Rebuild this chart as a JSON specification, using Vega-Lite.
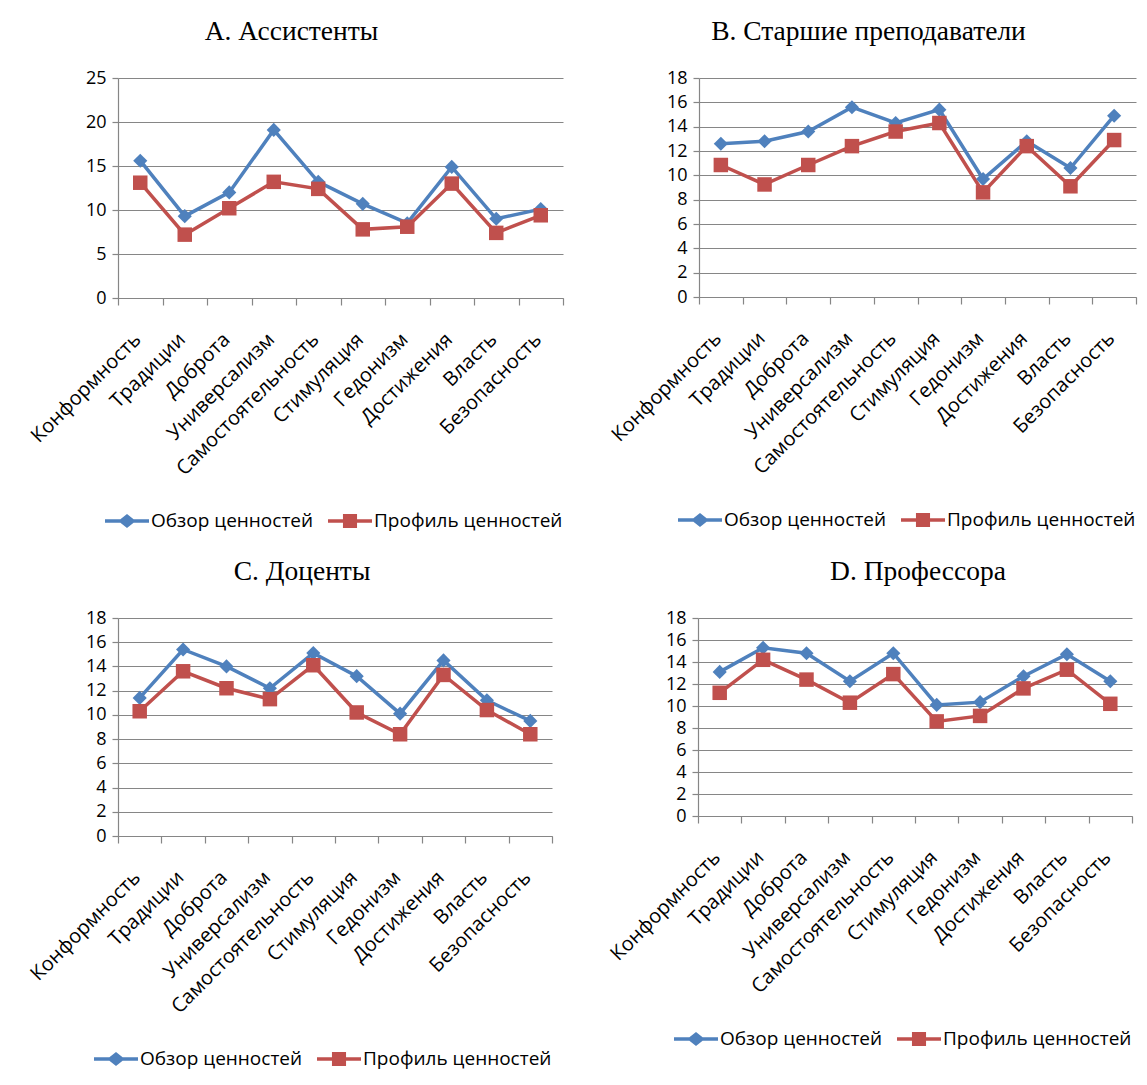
{
  "$schema": "https://vega.github.io/schema/vega-lite/v6.json",
  "background": "white",
  "padding": {"left": 26, "top": 17, "right": 2, "bottom": 5},
  "datasets": {
    "a": [
      {"c": "Конформность", "s": "Обзор ценностей", "v": 15.6},
      {"c": "Традиции", "s": "Обзор ценностей", "v": 9.3},
      {"c": "Доброта", "s": "Обзор ценностей", "v": 12.0},
      {"c": "Универсализм", "s": "Обзор ценностей", "v": 19.1},
      {"c": "Самостоятельность", "s": "Обзор ценностей", "v": 13.2},
      {"c": "Стимуляция", "s": "Обзор ценностей", "v": 10.7},
      {"c": "Гедонизм", "s": "Обзор ценностей", "v": 8.5},
      {"c": "Достижения", "s": "Обзор ценностей", "v": 14.9},
      {"c": "Власть", "s": "Обзор ценностей", "v": 9.0},
      {"c": "Безопасность", "s": "Обзор ценностей", "v": 10.1},
      {"c": "Конформность", "s": "Профиль ценностей", "v": 13.1},
      {"c": "Традиции", "s": "Профиль ценностей", "v": 7.2},
      {"c": "Доброта", "s": "Профиль ценностей", "v": 10.2},
      {"c": "Универсализм", "s": "Профиль ценностей", "v": 13.2},
      {"c": "Самостоятельность", "s": "Профиль ценностей", "v": 12.4},
      {"c": "Стимуляция", "s": "Профиль ценностей", "v": 7.8},
      {"c": "Гедонизм", "s": "Профиль ценностей", "v": 8.1},
      {"c": "Достижения", "s": "Профиль ценностей", "v": 13.0},
      {"c": "Власть", "s": "Профиль ценностей", "v": 7.4},
      {"c": "Безопасность", "s": "Профиль ценностей", "v": 9.4}
    ],
    "b": [
      {"c": "Конформность", "s": "Обзор ценностей", "v": 12.6},
      {"c": "Традиции", "s": "Обзор ценностей", "v": 12.8},
      {"c": "Доброта", "s": "Обзор ценностей", "v": 13.6},
      {"c": "Универсализм", "s": "Обзор ценностей", "v": 15.6},
      {"c": "Самостоятельность", "s": "Обзор ценностей", "v": 14.3},
      {"c": "Стимуляция", "s": "Обзор ценностей", "v": 15.4},
      {"c": "Гедонизм", "s": "Обзор ценностей", "v": 9.7},
      {"c": "Достижения", "s": "Обзор ценностей", "v": 12.8},
      {"c": "Власть", "s": "Обзор ценностей", "v": 10.6},
      {"c": "Безопасность", "s": "Обзор ценностей", "v": 14.9},
      {"c": "Конформность", "s": "Профиль ценностей", "v": 10.85},
      {"c": "Традиции", "s": "Профиль ценностей", "v": 9.25},
      {"c": "Доброта", "s": "Профиль ценностей", "v": 10.85},
      {"c": "Универсализм", "s": "Профиль ценностей", "v": 12.4},
      {"c": "Самостоятельность", "s": "Профиль ценностей", "v": 13.6},
      {"c": "Стимуляция", "s": "Профиль ценностей", "v": 14.3},
      {"c": "Гедонизм", "s": "Профиль ценностей", "v": 8.6},
      {"c": "Достижения", "s": "Профиль ценностей", "v": 12.4},
      {"c": "Власть", "s": "Профиль ценностей", "v": 9.1},
      {"c": "Безопасность", "s": "Профиль ценностей", "v": 12.9}
    ],
    "c": [
      {"c": "Конформность", "s": "Обзор ценностей", "v": 11.4},
      {"c": "Традиции", "s": "Обзор ценностей", "v": 15.4},
      {"c": "Доброта", "s": "Обзор ценностей", "v": 14.0},
      {"c": "Универсализм", "s": "Обзор ценностей", "v": 12.2},
      {"c": "Самостоятельность", "s": "Обзор ценностей", "v": 15.1},
      {"c": "Стимуляция", "s": "Обзор ценностей", "v": 13.2},
      {"c": "Гедонизм", "s": "Обзор ценностей", "v": 10.1},
      {"c": "Достижения", "s": "Обзор ценностей", "v": 14.5},
      {"c": "Власть", "s": "Обзор ценностей", "v": 11.2},
      {"c": "Безопасность", "s": "Обзор ценностей", "v": 9.5},
      {"c": "Конформность", "s": "Профиль ценностей", "v": 10.3},
      {"c": "Традиции", "s": "Профиль ценностей", "v": 13.6},
      {"c": "Доброта", "s": "Профиль ценностей", "v": 12.2},
      {"c": "Универсализм", "s": "Профиль ценностей", "v": 11.3},
      {"c": "Самостоятельность", "s": "Профиль ценностей", "v": 14.1},
      {"c": "Стимуляция", "s": "Профиль ценностей", "v": 10.2},
      {"c": "Гедонизм", "s": "Профиль ценностей", "v": 8.4},
      {"c": "Достижения", "s": "Профиль ценностей", "v": 13.3},
      {"c": "Власть", "s": "Профиль ценностей", "v": 10.4},
      {"c": "Безопасность", "s": "Профиль ценностей", "v": 8.4}
    ],
    "d": [
      {"c": "Конформность", "s": "Обзор ценностей", "v": 13.1},
      {"c": "Традиции", "s": "Обзор ценностей", "v": 15.3},
      {"c": "Доброта", "s": "Обзор ценностей", "v": 14.8},
      {"c": "Универсализм", "s": "Обзор ценностей", "v": 12.25},
      {"c": "Самостоятельность", "s": "Обзор ценностей", "v": 14.8},
      {"c": "Стимуляция", "s": "Обзор ценностей", "v": 10.1},
      {"c": "Гедонизм", "s": "Обзор ценностей", "v": 10.35},
      {"c": "Достижения", "s": "Обзор ценностей", "v": 12.7},
      {"c": "Власть", "s": "Обзор ценностей", "v": 14.7},
      {"c": "Безопасность", "s": "Обзор ценностей", "v": 12.25},
      {"c": "Конформность", "s": "Профиль ценностей", "v": 11.2},
      {"c": "Традиции", "s": "Профиль ценностей", "v": 14.2},
      {"c": "Доброта", "s": "Профиль ценностей", "v": 12.4},
      {"c": "Универсализм", "s": "Профиль ценностей", "v": 10.3},
      {"c": "Самостоятельность", "s": "Профиль ценностей", "v": 12.9},
      {"c": "Стимуляция", "s": "Профиль ценностей", "v": 8.6},
      {"c": "Гедонизм", "s": "Профиль ценностей", "v": 9.1},
      {"c": "Достижения", "s": "Профиль ценностей", "v": 11.6},
      {"c": "Власть", "s": "Профиль ценностей", "v": 13.3},
      {"c": "Безопасность", "s": "Профиль ценностей", "v": 10.2}
    ]
  },
  "resolve": {"scale": {"x": "independent", "y": "independent", "color": "independent"}, "legend": {"color": "independent"}},
  "spacing": 26,
  "vconcat": [
    {
      "hconcat": [
        {
          "title": {"text": "A. Ассистенты", "dx": -49},
          "width": 445, "height": 220,
          "data": {"name": "a"},
          "encoding": {
            "x": {"field": "c", "type": "nominal", "sort": ["Конформность","Традиции","Доброта","Универсализм","Самостоятельность","Стимуляция","Гедонизм","Достижения","Власть","Безопасность"], "scale": {"type": "band", "paddingInner": 0, "paddingOuter": 0}, "axis": {"title": null}},
            "y": {"field": "v", "type": "quantitative", "scale": {"domain": [0, 25], "nice": false}, "axis": {"title": null, "values": [0, 5, 10, 15, 20, 25]}},
            "color": {"field": "s", "type": "nominal", "scale": {"domain": ["Обзор ценностей", "Профиль ценностей"], "range": ["#4F81BD", "#C0504D"]},
              "legend": {"encode": {"symbols": {"update": {"shape": {"signal": "datum.value === 'Обзор ценностей' ? 'M-1,-0.08L-0.3,-0.08L0,-0.32L0.3,-0.08L1,-0.08L1,0.08L0.3,0.08L0,0.32L-0.3,0.08L-1,0.08Z' : 'M-1,-0.08L-0.32,-0.08L-0.32,-0.32L0.32,-0.32L0.32,-0.08L1,-0.08L1,0.08L0.32,0.08L0.32,0.32L-0.32,0.32L-0.32,0.08L-1,0.08Z'"}, "fill": {"signal": "datum.value === 'Обзор ценностей' ? '#4F81BD' : '#C0504D'"}, "stroke": {"value": "transparent"}, "strokeWidth": {"value": 0}, "opacity": {"value": 1}, "size": {"value": 1936}}}}}}
          },
          "layer": [
            {"mark": {"type": "line", "strokeWidth": 3.5}},
            {"transform": [{"filter": "datum.s === 'Обзор ценностей'"}], "mark": {"type": "point", "filled": true, "opacity": 1, "shape": "diamond", "size": 200}},
            {"transform": [{"filter": "datum.s === 'Профиль ценностей'"}], "mark": {"type": "point", "filled": true, "opacity": 1, "shape": "square", "size": 210}}
          ]
        },
        {
          "title": {"text": "B. Старшие преподаватели", "dx": -49},
          "width": 437, "height": 219,
          "data": {"name": "b"},
          "encoding": {
            "x": {"field": "c", "type": "nominal", "sort": ["Конформность","Традиции","Доброта","Универсализм","Самостоятельность","Стимуляция","Гедонизм","Достижения","Власть","Безопасность"], "scale": {"type": "band", "paddingInner": 0, "paddingOuter": 0}, "axis": {"title": null}},
            "y": {"field": "v", "type": "quantitative", "scale": {"domain": [0, 18], "nice": false}, "axis": {"title": null, "values": [0, 2, 4, 6, 8, 10, 12, 14, 16, 18]}},
            "color": {"field": "s", "type": "nominal", "scale": {"domain": ["Обзор ценностей", "Профиль ценностей"], "range": ["#4F81BD", "#C0504D"]},
              "legend": {"encode": {"symbols": {"update": {"shape": {"signal": "datum.value === 'Обзор ценностей' ? 'M-1,-0.08L-0.3,-0.08L0,-0.32L0.3,-0.08L1,-0.08L1,0.08L0.3,0.08L0,0.32L-0.3,0.08L-1,0.08Z' : 'M-1,-0.08L-0.32,-0.08L-0.32,-0.32L0.32,-0.32L0.32,-0.08L1,-0.08L1,0.08L0.32,0.08L0.32,0.32L-0.32,0.32L-0.32,0.08L-1,0.08Z'"}, "fill": {"signal": "datum.value === 'Обзор ценностей' ? '#4F81BD' : '#C0504D'"}, "stroke": {"value": "transparent"}, "strokeWidth": {"value": 0}, "opacity": {"value": 1}, "size": {"value": 1936}}}}}}
          },
          "layer": [
            {"mark": {"type": "line", "strokeWidth": 3.5}},
            {"transform": [{"filter": "datum.s === 'Обзор ценностей'"}], "mark": {"type": "point", "filled": true, "opacity": 1, "shape": "diamond", "size": 200}},
            {"transform": [{"filter": "datum.s === 'Профиль ценностей'"}], "mark": {"type": "point", "filled": true, "opacity": 1, "shape": "square", "size": 210}}
          ]
        }
      ],
      "spacing": 43,
      "resolve": {"scale": {"x": "independent", "y": "independent", "color": "independent"}, "legend": {"color": "independent"}}
    },
    {
      "hconcat": [
        {
          "title": {"text": "C. Доценты", "dx": -33},
          "width": 434, "height": 218,
          "data": {"name": "c"},
          "encoding": {
            "x": {"field": "c", "type": "nominal", "sort": ["Конформность","Традиции","Доброта","Универсализм","Самостоятельность","Стимуляция","Гедонизм","Достижения","Власть","Безопасность"], "scale": {"type": "band", "paddingInner": 0, "paddingOuter": 0}, "axis": {"title": null}},
            "y": {"field": "v", "type": "quantitative", "scale": {"domain": [0, 18], "nice": false}, "axis": {"title": null, "values": [0, 2, 4, 6, 8, 10, 12, 14, 16, 18]}},
            "color": {"field": "s", "type": "nominal", "scale": {"domain": ["Обзор ценностей", "Профиль ценностей"], "range": ["#4F81BD", "#C0504D"]},
              "legend": {"encode": {"symbols": {"update": {"shape": {"signal": "datum.value === 'Обзор ценностей' ? 'M-1,-0.08L-0.3,-0.08L0,-0.32L0.3,-0.08L1,-0.08L1,0.08L0.3,0.08L0,0.32L-0.3,0.08L-1,0.08Z' : 'M-1,-0.08L-0.32,-0.08L-0.32,-0.32L0.32,-0.32L0.32,-0.08L1,-0.08L1,0.08L0.32,0.08L0.32,0.32L-0.32,0.32L-0.32,0.08L-1,0.08Z'"}, "fill": {"signal": "datum.value === 'Обзор ценностей' ? '#4F81BD' : '#C0504D'"}, "stroke": {"value": "transparent"}, "strokeWidth": {"value": 0}, "opacity": {"value": 1}, "size": {"value": 1936}}}}}}
          },
          "layer": [
            {"mark": {"type": "line", "strokeWidth": 3.5}},
            {"transform": [{"filter": "datum.s === 'Обзор ценностей'"}], "mark": {"type": "point", "filled": true, "opacity": 1, "shape": "diamond", "size": 200}},
            {"transform": [{"filter": "datum.s === 'Профиль ценностей'"}], "mark": {"type": "point", "filled": true, "opacity": 1, "shape": "square", "size": 210}}
          ]
        },
        {
          "title": {"text": "D. Профессора", "dx": 3},
          "width": 434, "height": 198,
          "data": {"name": "d"},
          "encoding": {
            "x": {"field": "c", "type": "nominal", "sort": ["Конформность","Традиции","Доброта","Универсализм","Самостоятельность","Стимуляция","Гедонизм","Достижения","Власть","Безопасность"], "scale": {"type": "band", "paddingInner": 0, "paddingOuter": 0}, "axis": {"title": null}},
            "y": {"field": "v", "type": "quantitative", "scale": {"domain": [0, 18], "nice": false}, "axis": {"title": null, "values": [0, 2, 4, 6, 8, 10, 12, 14, 16, 18]}},
            "color": {"field": "s", "type": "nominal", "scale": {"domain": ["Обзор ценностей", "Профиль ценностей"], "range": ["#4F81BD", "#C0504D"]},
              "legend": {"encode": {"symbols": {"update": {"shape": {"signal": "datum.value === 'Обзор ценностей' ? 'M-1,-0.08L-0.3,-0.08L0,-0.32L0.3,-0.08L1,-0.08L1,0.08L0.3,0.08L0,0.32L-0.3,0.08L-1,0.08Z' : 'M-1,-0.08L-0.32,-0.08L-0.32,-0.32L0.32,-0.32L0.32,-0.08L1,-0.08L1,0.08L0.32,0.08L0.32,0.32L-0.32,0.32L-0.32,0.08L-1,0.08Z'"}, "fill": {"signal": "datum.value === 'Обзор ценностей' ? '#4F81BD' : '#C0504D'"}, "stroke": {"value": "transparent"}, "strokeWidth": {"value": 0}, "opacity": {"value": 1}, "size": {"value": 1936}}}}}}
          },
          "layer": [
            {"mark": {"type": "line", "strokeWidth": 3.5}},
            {"transform": [{"filter": "datum.s === 'Обзор ценностей'"}], "mark": {"type": "point", "filled": true, "opacity": 1, "shape": "diamond", "size": 200}},
            {"transform": [{"filter": "datum.s === 'Профиль ценностей'"}], "mark": {"type": "point", "filled": true, "opacity": 1, "shape": "square", "size": 210}}
          ]
        }
      ],
      "spacing": 53,
      "resolve": {"scale": {"x": "independent", "y": "independent", "color": "independent"}, "legend": {"color": "independent"}}
    }
  ],
  "config": {
    "font": "Open Sans",
    "view": {"stroke": null},
    "axis": {"labelFont": "Open Sans", "labelFontSize": 18, "labelColor": "#000000", "domainColor": "#868686", "tickColor": "#868686", "gridColor": "#868686", "gridOpacity": 1, "domainWidth": 1.2, "tickWidth": 1.2},
    "axisX": {"labelAngle": -45, "tickBand": "extent", "tickSize": 7, "grid": false, "labelPadding": 24, "labelOffset": -10, "labelFontSize": 20, "labelLimit": 400},
    "axisY": {"tickSize": 6, "labelPadding": 6, "grid": true, "domain": true, "ticks": true},
    "legend": {"orient": "bottom", "direction": "horizontal", "labelFont": "Open Sans", "labelFontSize": 19, "labelColor": "#000000", "symbolSize": 1936, "title": null, "offset": 20, "columnPadding": 14, "labelOffset": 2, "labelLimit": 300, "layout": {"bottom": {"anchor": "end"}}},
    "title": {"font": "Liberation Serif", "fontSize": 27.5, "fontWeight": "normal", "color": "#000000", "offset": 24, "anchor": "middle", "frame": "group"}
  }
}
